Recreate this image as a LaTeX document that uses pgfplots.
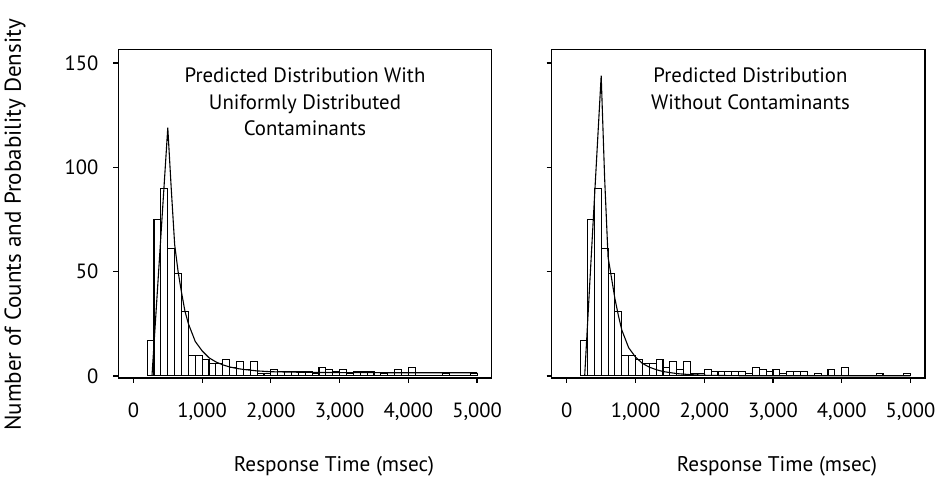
\documentclass[border=0pt]{standalone}
\usepackage{fontspec}
\setmainfont{PT Sans}
\usepackage{pgfplots}
\usepackage{pgfplotstable}
\pgfplotsset{compat=1.18}

\pgfplotstableread{
x y
200 17
300 75
400 90
500 61
600 49
700 31
800 10
900 10
1000 8
1100 6
1200 6
1300 8
1400 4
1500 7
1600 3
1700 7
1800 1
1900 1
2000 3
2100 2
2200 2
2300 2
2400 2
2500 2
2600 1
2700 4
2800 3
2900 2
3000 3
3100 1
3200 2
3300 2
3400 2
3500 0
3600 1
3700 0
3800 3
3900 0
4000 4
4100 0
4200 0
4300 0
4400 0
4500 1
4600 0
4700 0
4800 0
4900 1
5000 0
}\hist

\pgfplotstableread{
x y
270 0
500 119
550 90
600 63
650 50
700 40
750 31
800 25
900 16.5
1000 12
1100 8.7
1200 6.7
1300 5.3
1400 4.3
1500 3.6
1600 3.1
1800 2.4
2000 2.0
2500 1.7
3000 1.6
4000 1.5
5000 1.5
}\withcont

\pgfplotstableread{
x y
260 0
500 144
550 95
600 57
650 47
700 37
750 29
800 22
900 13.5
1000 9
1100 6
1200 4.2
1300 3
1400 2.1
1600 1.1
1800 0.6
2000 0.3
2500 0.1
3000 0
5000 0
}\withoutcont

\begin{document}
\begin{tikzpicture}[x=1pt,y=1pt]
\path[use as bounding box] (0,0) rectangle (469.5,240.5);
\pgfplotsset{
  myax/.style={
    scale only axis, width=186.7pt, height=164.35pt,
    xmin=-220, xmax=5213, ymin=-1, ymax=156.6,
    axis line style={line width=0.7pt},
    xtick={0,1000,2000,3000,4000,5000}, ytick={0,50,100,150},
    xtick pos=bottom, ytick pos=left, tick align=outside,
    major tick length=2.5pt,
    tick style={black, line width=0.6pt},
    scaled ticks=false,
    /pgf/number format/assume math mode=true,
    /pgf/number format/1000 sep={,},
    ticklabel style={font=\fontsize{10.3}{12}\selectfont},
    xticklabel style={yshift=-6.5pt},
    yticklabel style={xshift=-4pt},
  }
}
\begin{axis}[myax, at={(59.15pt,51.5pt)}, anchor=south west]
  \addplot[ybar interval, draw=black, fill=white, line width=0.55pt] table {\hist};
  \addplot[black, line width=0.55pt] table {\withcont};
\end{axis}
\begin{axis}[myax, at={(275.85pt,51.5pt)}, anchor=south west, yticklabels={}]
  \addplot[ybar interval, draw=black, fill=white, line width=0.55pt] table {\hist};
  \addplot[black, line width=0.55pt] table {\withoutcont};
\end{axis}
\node[align=center, anchor=north, inner sep=0pt, font=\fontsize{10.4}{13.25}\selectfont] at (152.5,206.8)
  {Predicted Distribution With\\Uniformly Distributed\\Contaminants};
\node[align=center, anchor=north, inner sep=0pt, font=\fontsize{10.4}{13.25}\selectfont] at (375.25,206.8)
  {Predicted Distribution\\Without Contaminants};
\node[rotate=90, font=\fontsize{11.5}{13}\selectfont] at (7.5,128) {Number of Counts and Probability Density};
\node[font=\fontsize{10.6}{12}\selectfont] at (167,7.5) {Response Time (msec)};
\node[font=\fontsize{10.6}{12}\selectfont] at (388.5,7.5) {Response Time (msec)};
\end{tikzpicture}
\end{document}
